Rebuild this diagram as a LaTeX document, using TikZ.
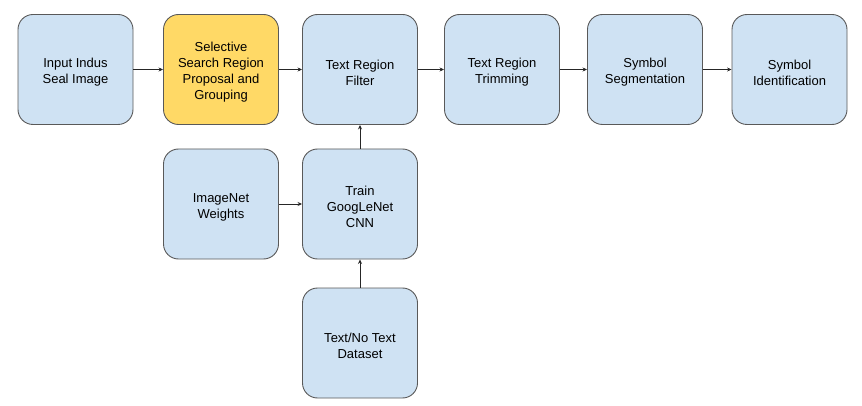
\documentclass[tikz,border=0pt]{standalone}
\usepackage{fontspec}
\setmainfont{Liberation Sans}
\usetikzlibrary{arrows.meta}
\definecolor{boxblue}{HTML}{CFE2F3}
\definecolor{boxyellow}{HTML}{FFD966}
\definecolor{boxline}{HTML}{595959}
\begin{document}
\begin{tikzpicture}[x=1pt,y=-1pt,
  box/.style={draw=boxline, line width=0.9pt, fill=boxblue, rounded corners=15pt,
    minimum width=115pt, minimum height=110pt, inner sep=0pt},
  txt/.style={align=center, font=\fontsize{13}{16}\selectfont, inner sep=0pt},
  conn/.style={draw=black!85, line width=0.7pt, -{Stealth[length=4.5pt,width=4pt]}}]
\useasboundingbox (0,0) rectangle (862,406);
\node[box] (inp) at (75.5,69.5) {};
\node[box, fill=boxyellow] (sel) at (221,69.5) {};
\node[box] (filt) at (360,69.5) {};
\node[box] (trim) at (502,69.5) {};
\node[box] (seg) at (645,69.5) {};
\node[box] (ident) at (789.5,69.5) {};
\node[box] (imgnet) at (221,204) {};
\node[box] (train) at (360,204) {};
\node[box] (data) at (360,343) {};
\node[txt] (inp-t) at ([yshift=-3pt]inp.center) {Input Indus\\Seal Image};
\node[txt] (sel-t) at ([yshift=-3pt]sel.center) {Selective\\Search Region\\Proposal and\\Grouping};
\node[txt] (filt-t) at ([yshift=-3pt]filt.center) {Text Region\\Filter};
\node[txt] (trim-t) at ([yshift=-3pt]trim.center) {Text Region\\Trimming};
\node[txt] (seg-t) at ([yshift=-3pt]seg.center) {Symbol\\Segmentation};
\node[txt] (ident-t) at ([yshift=-3pt]ident.center) {Symbol\\Identification};
\node[txt] (imgnet-t) at ([yshift=-3pt]imgnet.center) {ImageNet\\Weights};
\node[txt] (train-t) at ([yshift=-3pt]train.center) {Train\\GoogLeNet\\CNN};
\node[txt] (data-t) at ([yshift=-3pt]data.center) {Text/No Text\\Dataset};
\draw[conn] (inp) -- (sel);
\draw[conn] (sel) -- (filt);
\draw[conn] (filt) -- (trim);
\draw[conn] (trim) -- (seg);
\draw[conn] (seg) -- (ident);
\draw[conn] (imgnet) -- (train);
\draw[conn] (train) -- (filt);
\draw[conn] (data) -- (train);
\end{tikzpicture}
\end{document}
